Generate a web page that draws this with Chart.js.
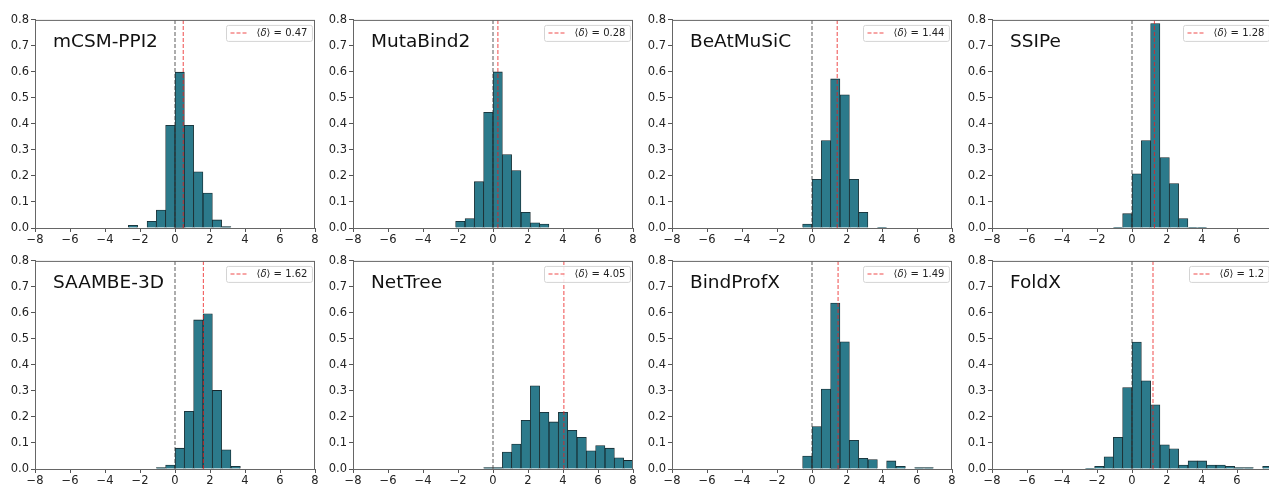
<!DOCTYPE html>
<html lang="en">
<head>
    <meta charset="UTF-8">
    <title>Mean shift histograms</title>
    <script src="https://cdn.jsdelivr.net/npm/chart.js"></script>
    <style>
        body {
            margin: 0;
            background-color: #ffffff;
            overflow: hidden;
            width: 1269px;
            height: 485px;
            position: relative;
        }
        .panel {
            position: absolute;
        }
    </style>
</head>
<body>

<script>
    // centres of the 30 histogram bins on [-8, 8]
    const binCenters = [-7.73, -7.2, -6.67, -6.13, -5.6, -5.07, -4.53, -4.0, -3.47, -2.93,
                        -2.4, -1.87, -1.33, -0.8, -0.27, 0.27, 0.8, 1.33, 1.87, 2.4,
                        2.93, 3.47, 4.0, 4.53, 5.07, 5.6, 6.13, 6.67, 7.2, 7.73];

    const methods = ["mCSM-PPI2", "MutaBind2", "BeAtMuSiC", "SSIPe", "SAAMBE-3D", "NetTree", "BindProfX", "FoldX"];
    const meanShift = [0.47, 0.28, 1.44, 1.28, 1.62, 4.05, 1.49, 1.2];

    const mcsmPpi2  = [0,0,0,0,0,0,0,0,0,0, 0.010,0,0.026,0.069,0.395,0.599,0.395,0.216,0.134,0.031, 0.005,0,0,0,0,0,0,0,0,0];
    const mutaBind2 = [0,0,0,0,0,0,0,0,0,0, 0,0.026,0.036,0.178,0.445,0.600,0.282,0.221,0.060,0.020, 0.015,0,0,0,0,0,0,0,0,0];
    const beAtMuSiC = [0,0,0,0,0,0,0,0,0,0, 0,0,0,0,0.015,0.187,0.336,0.573,0.512,0.187, 0.060,0,0.003,0,0,0,0,0,0,0];
    const ssipe     = [0,0,0,0,0,0,0,0,0,0, 0,0,0,0.003,0.055,0.208,0.336,0.786,0.271,0.171, 0.036,0.003,0.003,0,0,0,0,0,0,0];
    const saambe3d  = [0,0,0,0,0,0,0,0,0,0, 0,0,0,0.005,0.015,0.080,0.222,0.573,0.597,0.302, 0.074,0.010,0,0,0,0,0,0,0,0];
    const netTree   = [0,0,0,0,0,0,0,0,0,0, 0,0,0,0,0.005,0.005,0.065,0.096,0.187,0.320, 0.218,0.181,0.218,0.149,0.122,0.070,0.090,0.080,0.043,0.033];
    const bindProfX = [0,0,0,0,0,0,0,0,0,0, 0,0,0,0,0.050,0.163,0.307,0.638,0.489,0.110, 0.041,0.036,0,0.031,0.010,0,0.005,0.005,0,0];
    const foldX     = [0,0,0,0,0,0,0,0,0,0, 0.003,0.010,0.047,0.122,0.313,0.488,0.339,0.247,0.093,0.078, 0.015,0.031,0.031,0.015,0.015,0.010,0.005,0.005,0,0.010];

    const series = [mcsmPpi2, mutaBind2, beAtMuSiC, ssipe, saambe3d, netTree, bindProfX, foldX];

    const xRange = [-8, 8];
    const yRange = [0, 0.8];

    // panel placement (canvas top-left) in the 2 x 4 grid
    const colLeft = [0, 318, 637, 957];
    const rowTop = [11, 252];

    const fontFamily = '"DejaVu Sans", sans-serif';
    const meanColor = "rgba(235,30,30,0.8)";

    // frame, method name and the small legend box
    const panelDecor = {
        id: "panelDecor",
        afterDraw(chart, args, opts) {
            const { ctx, chartArea: a } = chart;
            ctx.save();

            // frame on all four sides
            ctx.strokeStyle = "#666";
            ctx.lineWidth = 1;
            ctx.strokeRect(a.left + 0.5, a.top + 0.5, a.right - a.left - 1, a.bottom - a.top);

            // method name
            ctx.fillStyle = "#111";
            ctx.font = "18.5px " + fontFamily;
            ctx.textBaseline = "alphabetic";
            ctx.textAlign = "left";
            ctx.fillText(opts.name, a.left + 18, a.top + 27);

            // legend: ⟨δ⟩ = value
            const fs = "10px " + fontFamily;
            const fi = "italic 10px " + fontFamily;
            ctx.font = fs;
            const w1 = ctx.measureText("\u27E8").width;
            const w3 = ctx.measureText("\u27E9 = " + opts.mean).width;
            ctx.font = fi;
            const w2 = ctx.measureText("\u03B4").width;
            const textW = w1 + w2 + w3;
            const boxW = 4 + 16 + 10 + textW + 5;
            const boxH = 16;
            const bx = Math.round(a.right - 3 - boxW) + 0.5;
            const by = a.top + 5.5;

            ctx.fillStyle = "rgba(255,255,255,0.85)";
            ctx.strokeStyle = "#d4d4d4";
            ctx.lineWidth = 1;
            ctx.beginPath();
            ctx.roundRect(bx, by, boxW, boxH, 2);
            ctx.fill();
            ctx.stroke();

            const cy = by + boxH / 2;
            ctx.strokeStyle = meanColor;
            ctx.lineWidth = 1.2;
            ctx.setLineDash([4, 2]);
            ctx.beginPath();
            ctx.moveTo(bx + 4, Math.round(cy));
            ctx.lineTo(bx + 20, Math.round(cy));
            ctx.stroke();
            ctx.setLineDash([]);

            ctx.fillStyle = "#222";
            ctx.textBaseline = "middle";
            let tx = bx + 30;
            ctx.font = fs;
            ctx.fillText("\u27E8", tx, cy + 0.5);
            tx += w1;
            ctx.font = fi;
            ctx.fillText("\u03B4", tx, cy + 0.5);
            tx += w2;
            ctx.font = fs;
            ctx.fillText("\u27E9 = " + opts.mean, tx, cy + 0.5);

            ctx.restore();
        }
    };

    function renderPanel(idx) {
        const canvas = document.createElement("canvas");
        canvas.className = "panel";
        canvas.width = 321;
        canvas.height = 235;
        canvas.style.left = colLeft[idx % 4] + "px";
        canvas.style.top = rowTop[Math.floor(idx / 4)] + "px";
        document.body.appendChild(canvas);

        const m = meanShift[idx];
        new Chart(canvas.getContext("2d"), {
            type: "bar",
            data: {
                datasets: [
                    {
                        type: "line",
                        data: [{ x: 0, y: yRange[0] }, { x: 0, y: yRange[1] }],
                        borderColor: "rgba(50,50,50,0.8)",
                        borderWidth: 1,
                        borderDash: [4, 2],
                        pointRadius: 0,
                        order: 0
                    },
                    {
                        type: "line",
                        data: [{ x: m, y: yRange[0] }, { x: m, y: yRange[1] }],
                        borderColor: meanColor,
                        borderWidth: 1,
                        borderDash: [4, 2],
                        pointRadius: 0,
                        order: 0
                    },
                    {
                        data: binCenters.map((c, i) => ({ x: c, y: series[idx][i] })),
                        backgroundColor: "#2c7a8b",
                        borderColor: "#15262b",
                        borderWidth: 0.8,
                        borderSkipped: "start",
                        barPercentage: 1,
                        categoryPercentage: 1,
                        order: 1
                    }
                ]
            },
            options: {
                responsive: false,
                animation: false,
                layout: { padding: { top: 8, right: 6, left: 0, bottom: 0 } },
                plugins: {
                    legend: { display: false },
                    tooltip: { enabled: false },
                    panelDecor: { name: methods[idx], mean: m }
                },
                scales: {
                    x: {
                        type: "linear",
                        min: xRange[0],
                        max: xRange[1],
                        offset: false,
                        afterFit: s => { s.height = 18; },
                        grid: { drawOnChartArea: false, drawTicks: true, tickLength: 4, color: "#555", offset: false },
                        border: { display: true, color: "#666" },
                        ticks: {
                            stepSize: 2,
                            padding: 1,
                            color: "#222",
                            font: { family: fontFamily, size: 11.5 },
                            maxRotation: 0,
                            callback: v => (v < 0 ? "\u2212" + Math.abs(v) : String(v))
                        }
                    },
                    y: {
                        min: yRange[0],
                        max: yRange[1],
                        afterFit: s => { s.width = 35; },
                        grid: { drawOnChartArea: false, drawTicks: true, tickLength: 4, color: "#555" },
                        border: { display: true, color: "#666" },
                        ticks: {
                            stepSize: 0.1,
                            padding: 2,
                            color: "#222",
                            font: { family: fontFamily, size: 11.5 },
                            callback: v => v.toFixed(1)
                        }
                    }
                }
            },
            plugins: [panelDecor]
        });
    }

    for (let i = 0; i < methods.length; i++) {
        renderPanel(i);
    }
</script>
</body>
</html>
